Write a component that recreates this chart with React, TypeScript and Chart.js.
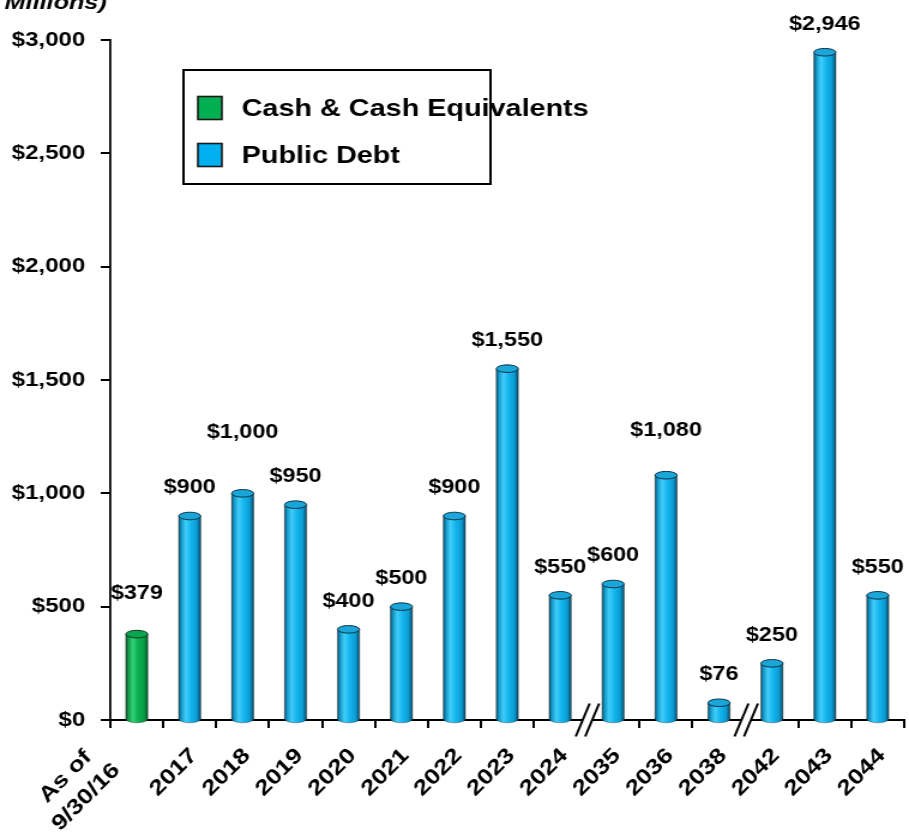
import React, { useEffect, useRef } from 'react';
import { Chart, registerables } from 'chart.js';

Chart.register(...registerables);

// ---------- data ----------
const categories: (string | string[])[] = [
  ['As of', '9/30/16'], '2017', '2018', '2019', '2020', '2021', '2022', '2023', '2024',
  '2035', '2036', '2038', '2042', '2043', '2044',
];
const cashValues: (number | null)[] = [379, null, null, null, null, null, null, null, null, null, null, null, null, null, null];
const debtValues: (number | null)[] = [null, 900, 1000, 950, 400, 500, 900, 1550, 550, 600, 1080, 76, 250, 2946, 550];
const yTickValues = [0, 500, 1000, 1500, 2000, 2500, 3000];
const seriesNames = ['Cash & Cash Equivalents', 'Public Debt'];
const titleFragment = 'Millions)';
// indices after which the category axis is broken
const axisBreaksAfter = [8, 11];

// ---------- layout / style ----------
const CANVAS_W = 758; // drawn width, stretched to 909 on screen
const SCREEN_W = 909;
const SCREEN_H = 833;
const SX = SCREEN_W / CANVAS_W;
const FONT = "'Liberation Sans', Arial, Helvetica, sans-serif";
const LABEL_LIFT_DEFAULT = 28;
const LABEL_LIFT: Record<number, number> = { 0: 40, 2: 61, 10: 45 };
const XLABEL_SIZE = 21.5;
// label centre offsets in screen pixels from (tick centre, axis line)
const XLABEL_CENTER = { dx: -16, dy: 52.5 };
const XLABEL_MULTI_CENTER = { dx: -61, dy: 67 };
const XLABEL_LINE_GAP = 29;

const palettes = [
  {
    base: '#00B050',
    stops: ['#075026', '#139a48', '#33d176', '#0bb050', '#07a046', '#055a28'],
    top: '#0aa54c',
    edge: '#0c3a1e',
  },
  {
    base: '#00B0F0',
    stops: ['#06506f', '#1298c9', '#42cdf9', '#14b6ef', '#0b9cd3', '#064c69'],
    top: '#1ba6da',
    edge: '#0b3446',
  },
];
const STOP_POS = [0, 0.12, 0.32, 0.55, 0.82, 1];

function cylGradient(ctx: CanvasRenderingContext2D, x: number, w: number, pal: any) {
  const g = ctx.createLinearGradient(x - w / 2, 0, x + w / 2, 0);
  pal.stops.forEach((c: string, i: number) => g.addColorStop(STOP_POS[i], c));
  return g;
}

function drawCylinder(ctx: CanvasRenderingContext2D, x: number, y: number, base: number, w: number, pal: any) {
  const rx = w / 2;
  const ry = 3.8;
  const g = cylGradient(ctx, x, w, pal);
  ctx.save();
  ctx.beginPath();
  ctx.ellipse(x, base, rx, ry, 0, 0, Math.PI * 2);
  ctx.fillStyle = g;
  ctx.fill();
  ctx.strokeStyle = 'rgba(60,60,60,0.55)';
  ctx.lineWidth = 0.8;
  ctx.beginPath();
  ctx.ellipse(x, base, rx, ry, 0, 0, Math.PI);
  ctx.stroke();
  ctx.fillStyle = g;
  ctx.fillRect(x - rx, y, w, base - y);
  ctx.beginPath();
  ctx.moveTo(x - rx, y);
  ctx.lineTo(x - rx, base);
  ctx.moveTo(x + rx, y);
  ctx.lineTo(x + rx, base);
  ctx.strokeStyle = 'rgba(40,40,40,0.6)';
  ctx.lineWidth = 0.8;
  ctx.stroke();
  ctx.beginPath();
  ctx.ellipse(x, y, rx, ry, 0, 0, Math.PI * 2);
  ctx.fillStyle = pal.top;
  ctx.fill();
  ctx.strokeStyle = pal.edge;
  ctx.lineWidth = 1;
  ctx.stroke();
  ctx.restore();
}

const customPlugin = {
  id: 'customDraw',
  beforeDatasetsDraw(chart: any) {
    const ctx: CanvasRenderingContext2D = chart.ctx;
    chart.data.datasets.forEach((ds: any, di: number) => {
      const meta = chart.getDatasetMeta(di);
      meta.data.forEach((el: any, i: number) => {
        if (ds.data[i] == null) return;
        const p = el.getProps(['x', 'y', 'base', 'width'], true);
        drawCylinder(ctx, p.x, p.y, p.base, p.width, palettes[di]);
      });
    });
    return false;
  },
  afterDraw(chart: any) {
    const ctx: CanvasRenderingContext2D = chart.ctx;
    const area = chart.chartArea;
    const xScale = chart.scales.x;
    ctx.save();

    // value labels
    ctx.font = `bold 19.5px ${FONT}`;
    ctx.fillStyle = '#000';
    ctx.textAlign = 'center';
    ctx.textBaseline = 'middle';
    chart.data.datasets.forEach((ds: any, di: number) => {
      const meta = chart.getDatasetMeta(di);
      meta.data.forEach((el: any, i: number) => {
        const v = ds.data[i];
        if (v == null) return;
        const lift = LABEL_LIFT[i] ?? LABEL_LIFT_DEFAULT;
        ctx.fillText('$' + v.toLocaleString('en-US'), el.x, el.y - lift);
      });
    });

    // category labels, rotated 45 degrees on screen
    ctx.font = `bold ${XLABEL_SIZE}px ${FONT}`;
    ctx.textAlign = 'center';
    ctx.textBaseline = 'middle';
    const labels: any[] = chart.data.labels;
    const pd = Math.SQRT1_2;
    labels.forEach((lab, i) => {
      const cx = xScale.getPixelForValue(i);
      const lines: string[] = Array.isArray(lab) ? lab : [lab];
      const c = lines.length > 1 ? XLABEL_MULTI_CENTER : XLABEL_CENTER;
      lines.forEach((line, k) => {
        const off = (k - (lines.length - 1) / 2) * XLABEL_LINE_GAP;
        ctx.save();
        ctx.translate(cx, area.bottom);
        ctx.scale(1 / SX, 1); // screen-pixel units
        ctx.translate(c.dx + off * pd, c.dy + off * pd);
        ctx.rotate(-Math.PI / 4);
        ctx.scale(SX, 1); // keep the wide glyphs of the rest of the chart
        ctx.fillText(line, 0, 0);
        ctx.restore();
      });
    });

    // axis break marks
    axisBreaksAfter.forEach((k) => {
      const bx = (xScale.getPixelForValue(k) + xScale.getPixelForValue(k + 1)) / 2;
      const by = area.bottom;
      const hx = 5.8;
      const hy = 16.5;
      const c1 = bx - 3.3;
      const c2 = bx + 4.6;
      ctx.beginPath();
      ctx.moveTo(c1 - hx, by + hy);
      ctx.lineTo(c1 + hx, by - hy);
      ctx.lineTo(c2 + hx, by - hy);
      ctx.lineTo(c2 - hx, by + hy);
      ctx.closePath();
      ctx.fillStyle = '#fff';
      ctx.fill();
      ctx.strokeStyle = '#000';
      ctx.lineWidth = 2;
      ctx.beginPath();
      ctx.moveTo(c1 - hx, by + hy);
      ctx.lineTo(c1 + hx, by - hy);
      ctx.moveTo(c2 - hx, by + hy);
      ctx.lineTo(c2 + hx, by - hy);
      ctx.stroke();
    });

    // legend box
    const lx = 153, ly = 70, lw = 256, lh = 114;
    ctx.fillStyle = '#fff';
    ctx.fillRect(lx, ly, lw, lh);
    ctx.strokeStyle = '#000';
    ctx.lineWidth = 2;
    ctx.strokeRect(lx, ly, lw, lh);
    const rows = [108, 155];
    chart.data.datasets.forEach((ds: any, di: number) => {
      const cy = rows[di];
      ctx.fillStyle = ds.backgroundColor;
      ctx.fillRect(165, cy - 11.5, 20, 23);
      ctx.strokeStyle = '#1a1a1a';
      ctx.lineWidth = 1.6;
      ctx.strokeRect(165, cy - 11.5, 20, 23);
      ctx.fillStyle = '#000';
      ctx.font = `bold 24px ${FONT}`;
      ctx.textAlign = 'left';
      ctx.textBaseline = 'middle';
      ctx.fillText(ds.label, 201.5, cy + 1);
    });

    // cut-off title fragment
    ctx.font = `italic bold 21px ${FONT}`;
    ctx.textAlign = 'right';
    ctx.textBaseline = 'alphabetic';
    ctx.fillStyle = '#000';
    ctx.fillText(titleFragment, 89, 9);

    ctx.restore();
  },
};

export default function App() {
  const ref = useRef<HTMLCanvasElement | null>(null);

  useEffect(() => {
    if (!ref.current) return;
    const chart = new Chart(ref.current, {
      type: 'bar',
      data: {
        labels: categories as any,
        datasets: [
          { label: seriesNames[0], data: cashValues, backgroundColor: palettes[0].base },
          { label: seriesNames[1], data: debtValues, backgroundColor: palettes[1].base },
        ],
      },
      options: {
        responsive: false,
        maintainAspectRatio: false,
        devicePixelRatio: 1,
        animation: false,
        events: [],
        layout: { padding: { top: 40, right: 4, left: 0, bottom: 0 } },
        datasets: { bar: { barPercentage: 0.415, categoryPercentage: 1 } },
        plugins: { legend: { display: false }, tooltip: { enabled: false }, title: { display: false } },
        scales: {
          x: {
            stacked: true,
            border: { display: true, color: '#000', width: 2 },
            grid: {
              drawOnChartArea: false,
              drawTicks: true,
              tickLength: 8,
              lineWidth: 2,
              color: (c: any) => (axisBreaksAfter.map((k) => k + 1).includes(c.index) ? 'rgba(0,0,0,0)' : '#000'),
            },
            ticks: { display: false, autoSkip: false },
            afterFit: (s: any) => {
              s.height = SCREEN_H - 720;
              s.paddingLeft = 0;
              s.paddingRight = 0;
            },
          },
          y: {
            stacked: true,
            min: 0,
            max: 3000,
            border: { display: true, color: '#000', width: 1.8 },
            grid: { drawOnChartArea: false, drawTicks: true, tickLength: 8, lineWidth: 2, color: '#000' },
            afterBuildTicks: (s: any) => { s.ticks = yTickValues.map((v) => ({ value: v })); },
            ticks: {
              color: '#000',
              padding: 13,
              font: { family: FONT, size: 20, weight: 'bold' },
              callback: (v: any) => '$' + Number(v).toLocaleString('en-US'),
            },
            afterFit: (s: any) => { s.width = 92; },
          },
        },
      },
      plugins: [customPlugin],
    });
    return () => chart.destroy();
  }, []);

  return (
    <div style={{ position: 'absolute', left: 0, top: 0, width: SCREEN_W, height: SCREEN_H, background: '#fff' }}>
      <canvas
        ref={ref}
        width={CANVAS_W}
        height={SCREEN_H}
        style={{ width: `${SCREEN_W}px`, height: `${SCREEN_H}px`, display: 'block' }}
      />
    </div>
  );
}
